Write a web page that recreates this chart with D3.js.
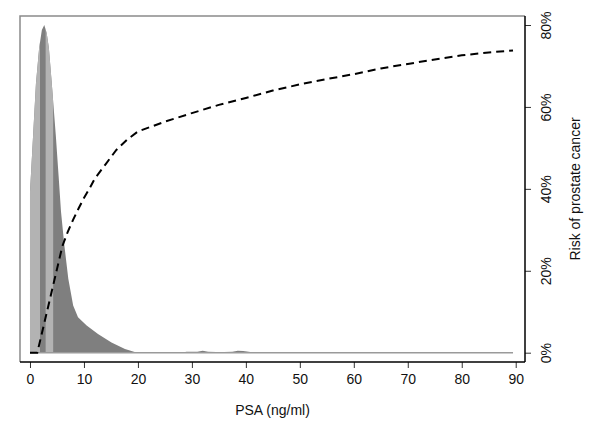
<!DOCTYPE html>
<html>
<head>
<meta charset="utf-8">
<script src="https://cdn.jsdelivr.net/npm/d3@7"></script>
<style>
  body { margin: 0; background: #fff; }
  text { font-family: "Liberation Sans", Arial, sans-serif; fill: #111; }
</style>
</head>
<body>
<svg id="chart"></svg>
<script>
// PSA density (relative to peak)
var densPsa = [0, 0.3, 0.6, 1.1, 1.7, 2.2, 2.65, 3.1, 3.5, 4.0, 4.8, 5.3, 5.75, 6.35, 7.1, 8.0, 8.9, 10.5, 12.6, 15.1, 17.6, 19.4, 20,
               28, 29, 31, 32, 33, 34.5, 36, 37.5, 38.5, 39.5, 40.5, 41.8, 89.5];
var densVal = [0.49, 0.58, 0.67, 0.82, 0.93, 0.985, 1, 0.975, 0.93, 0.83, 0.66, 0.54, 0.43, 0.33, 0.226, 0.144, 0.108, 0.083, 0.057, 0.031, 0.011, 0.002, 0,
               0, 0.003, 0.003, 0.006, 0.003, 0.002, 0.002, 0.003, 0.006, 0.005, 0.003, 0, 0];

// light shaded PSA bands
var lightBands = [[0, 1.85], [2.9, 4.3]];

// risk of prostate cancer (%)
var riskPsa = [0, 1.35, 2, 3, 4, 5, 6, 7, 8, 9, 10, 11, 12, 14, 16, 18, 20, 25, 30, 35, 40, 45, 50, 55, 60, 65, 70, 75, 80, 85, 89.5];
var riskPct = [0, 0, 3.6, 9.2, 14.8, 20.4, 26, 29.5, 32.5, 35.2, 37.8, 40, 42.5, 46, 49.5, 52, 54, 56.4, 58.5, 60.5, 62.2, 64, 65.5, 66.8, 68, 69.4, 70.5, 71.6, 72.6, 73.3, 73.8];

var xTicks = [0, 10, 20, 30, 40, 50, 60, 70, 80, 90];
var yTicks = [0, 20, 40, 60, 80];

var drawChart = function(idName)
{
  var screen = { width: 600, height: 437 };
  var margins = { top: 16, bottom: 75, left: 20, right: 75 };

  var svg = d3.select(idName)
      .attr("width", screen.width)
      .attr("height", screen.height);

  var plotL = margins.left, plotR = screen.width - margins.right;
  var plotT = margins.top, plotB = screen.height - margins.bottom;

  var x = d3.scaleLinear().domain([-1.85, 91.72]).range([plotL, plotR]);
  var y = d3.scaleLinear().domain([-2.27, 82.2]).range([plotB, plotT]);
  // density drawn on its own hidden scale, peak level with 80%
  var yD = d3.scaleLinear().domain([0, 1]).range([y(0), y(80)]);

  var dens = densPsa.map(function(p, i) { return { psa: p, v: densVal[i] }; });
  var risk = riskPsa.map(function(p, i) { return { psa: p, r: riskPct[i] }; });

  var area = d3.area()
      .x(d => x(d.psa))
      .y0(yD(0))
      .y1(d => yD(d.v));

  // clip paths for the light bands
  var defs = svg.append("defs");
  lightBands.forEach(function(b, i) {
    defs.append("clipPath").attr("id", "band" + i)
      .append("rect")
        .attr("x", x(b[0]))
        .attr("width", x(b[1]) - x(b[0]))
        .attr("y", plotT)
        .attr("height", plotB - plotT);
  });

  svg.append("path")
      .datum(dens)
      .attr("d", area)
      .attr("fill", "#7f7f7f");

  lightBands.forEach(function(b, i) {
    svg.append("path")
        .datum(dens)
        .attr("d", area)
        .attr("clip-path", "url(#band" + i + ")")
        .attr("fill", "#b3b3b3");
  });

  // baseline of density
  svg.append("line")
      .attr("x1", x(0)).attr("x2", x(89.5))
      .attr("y1", yD(0)).attr("y2", yD(0))
      .attr("stroke", "#9a9a9a")
      .attr("stroke-width", 1.5);

  // risk line
  var line = d3.line()
      .x(d => x(d.psa))
      .y(d => y(d.r));

  svg.append("path")
      .datum(risk)
      .attr("d", line)
      .attr("fill", "none")
      .attr("stroke", "#000")
      .attr("stroke-width", 2)
      .attr("stroke-dasharray", "8,5");

  // box: grey top and left
  svg.append("path")
      .attr("d", "M" + plotL + "," + plotB + "V" + plotT + "H" + plotR)
      .attr("fill", "none")
      .attr("stroke", "#8a8a8a")
      .attr("stroke-width", 1.5);

  // bottom axis
  var xAxis = d3.axisBottom(x)
      .tickValues(xTicks)
      .tickSize(6)
      .tickPadding(6)
      .tickSizeOuter(0);

  var gx = svg.append("g")
      .attr("transform", "translate(0," + plotB + ")")
      .call(xAxis);
  gx.select(".domain").remove();
  gx.append("line")
      .attr("x1", plotL).attr("x2", plotR)
      .attr("stroke", "#000").attr("stroke-width", 1.5);
  gx.selectAll(".tick line").attr("stroke", "#333");
  gx.selectAll(".tick text")
      .style("font-size", "14px")
      .attr("fill", "#111");

  // right axis
  var yAxis = d3.axisRight(y)
      .tickValues(yTicks)
      .tickSize(6)
      .tickSizeOuter(0)
      .tickFormat(d => d + "%");

  var gy = svg.append("g")
      .attr("transform", "translate(" + plotR + ",0)")
      .call(yAxis);
  gy.select(".domain").remove();
  gy.append("line")
      .attr("y1", plotT).attr("y2", plotB)
      .attr("stroke", "#000").attr("stroke-width", 1.5);
  gy.selectAll(".tick line").attr("stroke", "#333");
  gy.selectAll(".tick text")
      .style("font-size", "14px")
      .attr("fill", "#111")
      .attr("x", null)
      .attr("dy", null)
      .attr("text-anchor", "middle")
      .attr("dominant-baseline", "central")
      .attr("transform", "translate(21,0) rotate(-90)");

  // axis titles
  svg.append("text")
      .attr("x", (plotL + plotR) / 2)
      .attr("y", 415)
      .attr("text-anchor", "middle")
      .style("font-size", "14px")
      .text("PSA (ng/ml)");

  svg.append("text")
      .attr("transform", "translate(580," + ((plotT + plotB) / 2) + ") rotate(-90)")
      .attr("text-anchor", "middle")
      .style("font-size", "14px")
      .text("Risk of prostate cancer");
}

drawChart("#chart");
</script>
</body>
</html>
